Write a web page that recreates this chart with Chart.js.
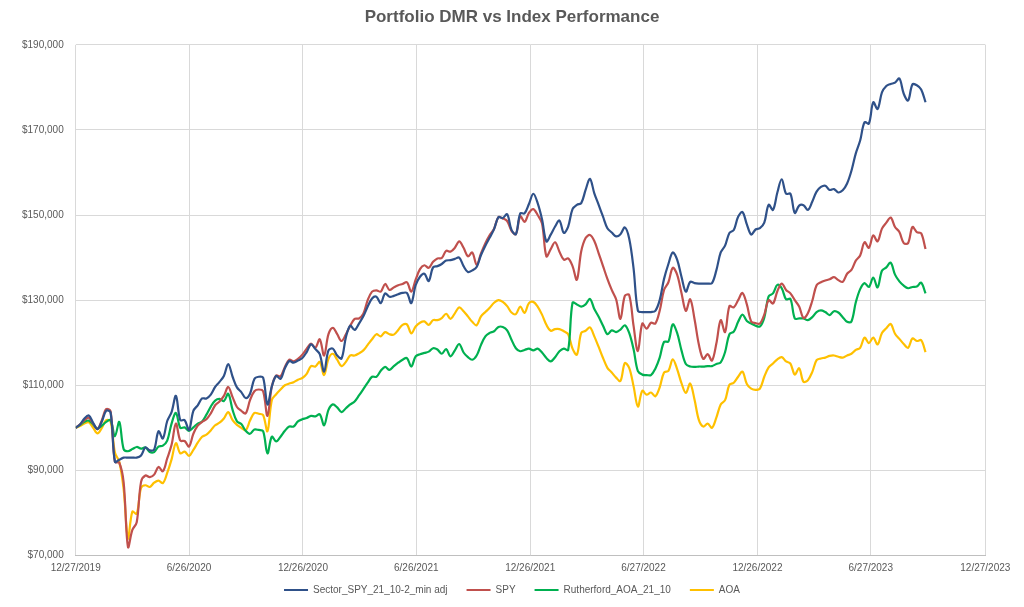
<!DOCTYPE html>
<html>
<head>
<meta charset="utf-8">
<script src="https://cdn.jsdelivr.net/npm/chart.js@4.4.0/dist/chart.umd.min.js"></script>
<style>
  html, body { margin: 0; padding: 0; background: #fff; }
  #wrap { width: 1024px; height: 607px; }
</style>
</head>
<body>
<div id="wrap"><canvas id="chart" width="1024" height="607"></canvas></div>
<script>
// weekly values in $ thousands, first week = 12/27/2019
const weekDays = 7;

const tickDays = [0, 182, 365, 547, 730, 912, 1095, 1277, 1461];
const tickLabels = ["12/27/2019", "6/26/2020", "12/26/2020", "6/26/2021", "12/26/2021",
  "6/27/2022", "12/26/2022", "6/27/2023", "12/27/2023"];

const sectorSpy = [
  100, 100.8, 102.2, 102.9, 101.2, 99.7, 101.5, 104, 103.6, 92,
  92.5, 93, 93, 93, 93, 93.5, 95.4, 94.7, 94.9, 99.2,
  97.5, 101.6, 103.7, 107.5, 101.8, 101.8, 99.5, 104, 105.3, 106.9,
  106.9, 107.8, 109.6, 110.8, 112.2, 115, 112, 109.5, 108.4, 107,
  108, 111.5, 112, 111.8, 105.5, 109.7, 112.2, 111.5, 114, 115.7,
  115.3, 115.8, 116.4, 117.8, 119.6, 118.5, 117.3, 113.2, 118.2, 118.6,
  117, 116.3, 121.3, 124, 123, 124.5, 126.2, 128.5, 130.4, 130.8,
  129.3, 131.6, 130.8, 131, 131.4, 131.7, 131.7, 129.3, 133.5, 135.5,
  136.2, 134.5, 137.7, 138, 138.5, 139.3, 139.4, 139.7, 140, 138,
  136.6, 137, 137.8, 140.6, 142.8, 144.7, 146.7, 149.5, 149.3, 150.2,
  146.5, 145.5, 150.4, 150.4, 152.6, 155, 152.8, 149, 143.8, 145.4,
  147.3, 148.7, 145.8, 147.3, 151.4, 152.4, 152.8, 155.9, 158.5, 155.1,
  152.4, 149.6, 146.9, 145.9, 145, 145.5, 147.1, 144.5, 137.5, 127.5,
  127.2, 127.2, 127.2, 127.5, 130, 135, 138.5, 141.2, 139.5, 135.5,
  132, 134.3, 134, 133.9, 133.9, 133.9, 134, 137, 141.2, 142.8,
  145.8, 146.5, 149.6, 150.7, 147.8, 145.4, 146.6, 146.9, 148.2, 152.4,
  151.2, 155.3, 158.4, 155, 155, 150.5, 152.2, 152.3, 151.2, 153.1,
  155.5, 156.6, 156.9, 155.9, 156.1, 155.3, 155.8, 157.4, 160.4, 164.5,
  167.5, 171.8, 171.5, 176.5, 174.9, 178.8, 180.3, 180.8, 181.1, 182.1,
  178.5, 176.9, 180.7, 180.5, 179.5, 176.5
];

const spy = [
  100, 100.8, 101.8, 102.4, 101, 99.7, 101.8, 104.4, 103.9, 92,
  91.8, 87.2, 72, 76, 77.8, 87.3, 88.8, 88.4, 89, 90.8,
  89.8, 92.8, 96, 101, 97, 96.9, 95.6, 98.6, 100.5, 101.4,
  102, 103.4, 105.3, 106.2, 107.5, 109.6, 107.2, 104.9, 104, 103.4,
  106.5, 108.6, 109, 108.6, 102.8, 109.7, 112.3, 112.1, 114.3, 116,
  115.6, 116.2, 117.2, 118.6, 119.8, 118.8, 120.8, 117, 122, 123.5,
  122, 120.4, 122, 124, 125.6, 125.7, 126.8, 130, 132, 132.3,
  132, 133.8, 132.4, 133, 133.5, 133.8, 134.2, 132, 134.8, 137.3,
  138.2, 137.6, 139, 139.8, 139.9, 141.6, 141.4, 142.3, 143.8, 142.3,
  140.3, 141.2, 138.3, 141, 143.4, 145.3, 146.8, 149.5, 149.2, 148.6,
  146.3, 145.5, 149.7, 148.4, 150.5, 151.4, 150, 148, 140.3, 142,
  143.6, 141.4, 139.5, 139.8, 138, 134.8, 141.5, 144.6, 145.3, 143.9,
  141, 138, 135, 132.4, 130.2, 125.6, 131, 131.2, 124, 118,
  124.5, 123.3, 124.7, 124.5, 127.5, 132.4, 134.2, 137.6, 136, 131.7,
  127.5, 130.2, 125.5, 119.5, 116.2, 117.3, 115.8, 119.8, 125.3, 122.5,
  128.6, 128.3, 130, 131.7, 129, 125, 124.6, 124.5, 126.6, 130,
  129.2, 132.1, 133.9, 132.4, 131.6, 130, 128.5, 125.8, 126.9, 129.8,
  133.5, 134.2, 134.6, 134.9, 135.4, 134.7, 134.3, 136.2, 137.1, 139.3,
  140.5, 143.6, 142.3, 145.2, 143.8, 146.8, 148.2, 149.4, 147.2, 146,
  143.4, 143.4, 147.2, 146, 145.7, 142
];

const rutherfordAoa = [
  100, 100.7, 101.4, 101.7, 100.8, 99.8, 100.5, 101.4, 101.8, 98,
  101.4, 95, 94.5, 95, 95.5, 95.1, 95.4, 94.3, 94.3, 95.6,
  95.8, 97, 101, 103.5, 100, 100.1, 99.3, 100.1, 101, 101.5,
  103.1, 105, 106.4, 106.8, 106.3, 108, 104.2, 101.5, 100.9, 99.3,
  98.6, 99.6, 99.5, 99.2, 94, 97.9, 96.8, 97.9, 99.3, 100.3,
  100.3, 101.5, 102, 102.3, 102.8, 102.7, 103.2, 100.6, 104.2, 105.5,
  104.8, 103.7, 104.6, 105.5, 106.2, 107.6, 109.1, 110.6, 112, 112,
  113.4, 114.3, 113.6, 114.5, 115.3, 116, 116.4, 114.4, 116.8, 117.3,
  117.6, 117.9, 118.7, 118.4, 117.4, 118.5, 116.8, 118.2, 119.7, 117.7,
  116.6, 116, 117, 119.5, 121.5, 122.3, 122.7, 123.7, 123.7, 122.9,
  120.7, 118.7, 118, 118.3, 118.6, 118.2, 118.6, 117.7, 116.4, 115.6,
  116.6, 118, 118.6, 118.3, 129.4, 129, 128.5, 129, 130.3, 127.9,
  126.1, 124, 122, 122.9, 122.5, 123.1, 124.1, 122.3, 118.5, 113.3,
  112.5, 112.4, 112.4, 113.9, 116.5, 120.2, 120.3, 124.3, 122.3, 118.2,
  115, 114.4, 114.3, 114.4, 114.4, 114.5, 114.5, 115, 115.4, 117.8,
  122, 122.6, 124.9, 126.6, 125.1, 124.5, 124, 123.8, 125.9, 130.9,
  131.6, 133.6, 132.8, 130.2, 130.3, 125.7, 125.7, 125.7, 125.3, 126,
  127.2, 127.6, 127.2, 126.5, 127.4, 127.1, 126, 124.9, 125, 129.5,
  132.6, 134, 133.1, 135.3, 133, 136.9, 137.7, 138.8, 136, 134.4,
  133.4, 132.8, 133.1, 133.2, 134.1, 131.6
];

const aoa = [
  100, 100.4, 101, 101.3, 100, 98.7, 100, 101.8, 101.5, 94.2,
  92, 85.6, 74, 80.3, 79.8, 85.9, 86.5, 86.1, 87.1, 87.6,
  87, 89.4, 92.6, 96.4, 94, 94.4, 93.4, 94.8, 96.5, 97.9,
  98.4, 99.4, 100.6, 101.2, 102.2, 103.7, 101.8, 100.7, 100, 99.4,
  101.7, 103.5, 103.3, 103, 99.2, 106.5, 107.9, 109, 110, 110.4,
  110.7, 111.3, 111.7, 112.7, 114.5, 114.4, 115.5, 112.4, 116.2, 117.4,
  116, 114.5, 115.5, 117, 117, 117.5, 118.2, 119.5, 120.8, 122,
  121.5, 122.5, 122, 121.9, 123, 124.2, 124.3, 122.2, 123.8, 124.7,
  125, 124.2, 125.3, 125.3, 125.8, 126.8, 125.6, 126.9, 128.3, 127.4,
  126.2, 124.9, 124.1, 126.2, 127.2, 128.2, 129.4, 130, 129.6, 128.6,
  127.1, 126.7, 128.5, 127, 129.3, 129.6, 128.5, 126.6, 124.2, 122.8,
  123.2, 123.2, 122.7, 122, 118.6, 117.2, 122.3, 122.8, 123.6, 121.5,
  119, 116.4, 114.1, 113, 111.8, 111, 115.2, 114.1, 109.8, 105,
  108.7, 107.8, 108.3, 107.4, 109.5, 113, 113.4, 116.1, 113.8, 110.5,
  108.2, 110.4, 106.6, 101.8, 100.3, 101, 100, 102.4, 105.5, 106.5,
  110.1, 110.6, 112, 113.2, 110.3, 109.2, 108.9, 109.2, 112, 114.2,
  115.1, 116.1, 116.6, 115.6, 115.1, 112.5, 114, 110.8, 111.2, 113.1,
  115.9, 116.3, 116.5, 116.9, 117, 116.7, 116.5, 117, 117.4, 118.3,
  118.8, 121.2, 119.9, 121.2, 119.6, 122.3, 123.4, 124.4, 122.1, 120.9,
  119.7, 118.8, 121, 120.4, 120.6, 117.8
];

const seriesNames = ["Sector_SPY_21_10-2_min adj", "SPY", "Rutherford_AOA_21_10", "AOA"];
const seriesColors = ["#2F5189", "#C0504D", "#00B050", "#FFC000"];
const seriesValues = [sectorSpy, spy, rutherfordAoa, aoa];

const toPoints = (arr) => arr.map((v, i) => ({ x: i * weekDays, y: v }));

const textGray = "#595959";
const gridGray = "#d9d9d9";

// center title and legend on the whole canvas, pull the legend up a little
const placeBlocks = {
  id: "placeBlocks",
  afterLayout(chart) {
    const w = chart.width;
    if (chart.titleBlock) {
      chart.titleBlock.left = 0;
      chart.titleBlock.right = w;
    }
    const lg = chart.legend;
    if (lg) {
      const shift = 9.5;
      lg.left = 0;
      lg.right = w;
      lg.top -= shift;
      lg.bottom -= shift;
    }
  },
};

const chart = new Chart(document.getElementById("chart"), {
  type: "line",
  data: {
    datasets: seriesValues.map((vals, i) => ({
      label: seriesNames[i],
      data: toPoints(vals),
      borderColor: seriesColors[i],
      backgroundColor: seriesColors[i],
      borderWidth: 2.2,
      pointRadius: 0,
      tension: 0.35,
      fill: false,
    })),
  },
  options: {
    responsive: false,
    animation: false,
    layout: { padding: { left: 0, right: 38.7, top: 0, bottom: 0 } },
    plugins: {
      title: {
        display: true,
        text: "Portfolio DMR vs Index Performance",
        color: textGray,
        font: { family: "Liberation Sans", size: 17, weight: "bold", lineHeight: 1.2 },
        padding: { top: 7.4, bottom: 17 },
      },
      legend: {
        position: "bottom",
        labels: {
          color: textGray,
          font: { family: "Liberation Sans", size: 10 },
          boxWidth: 24,
          boxHeight: 2,
          padding: 19,
          generateLabels: (c) =>
            Chart.defaults.plugins.legend.labels.generateLabels(c).map((l) => ({
              ...l,
              lineWidth: 0,
              fillStyle: l.strokeStyle,
            })),
        },
      },
      tooltip: { enabled: false },
    },
    scales: {
      x: {
        type: "linear",
        min: 0,
        max: 1461,
        afterBuildTicks: (scale) => {
          scale.ticks = tickDays.map((d) => ({ value: d }));
        },
        afterFit: (scale) => {
          scale.height = 20;
        },
        ticks: {
          autoSkip: false,
          maxRotation: 0,
          padding: 7,
          color: textGray,
          font: { family: "Liberation Sans", size: 10 },
          callback: (v) => tickLabels[tickDays.indexOf(v)],
        },
        grid: { color: gridGray, drawTicks: false },
        border: { color: "#bfbfbf" },
      },
      y: {
        min: 70,
        max: 190,
        afterFit: (scale) => {
          scale.width = 75.7;
        },
        ticks: {
          stepSize: 20,
          padding: 12,
          color: textGray,
          font: { family: "Liberation Sans", size: 10 },
          callback: (v) => "$" + (v * 1000).toLocaleString("en-US"),
        },
        grid: { color: gridGray, drawTicks: false },
        border: { display: false },
      },
    },
  },
  plugins: [placeBlocks],
});

// legend is shorter than its default box so the plot keeps its bottom at $70,000
const baseFit = chart.legend.fit.bind(chart.legend);
chart.legend.fit = function () {
  baseFit();
  this.height = 31.5;
};
chart.update();
</script>
</body>
</html>
